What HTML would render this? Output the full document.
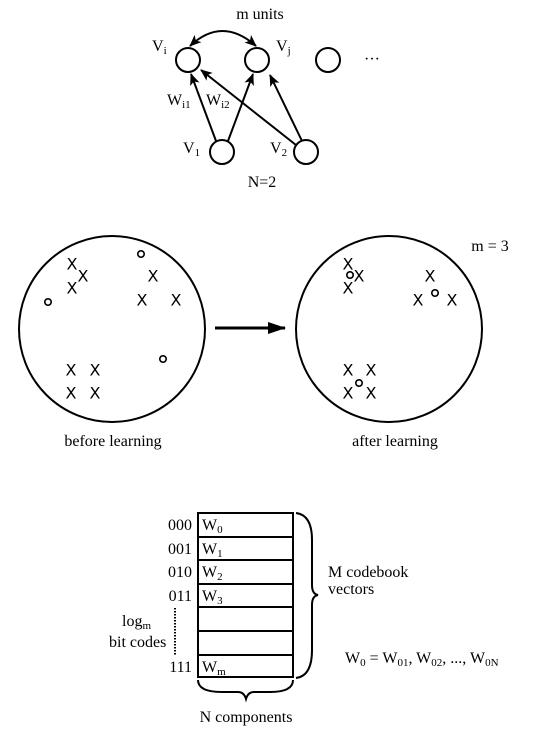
<!DOCTYPE html>
<html><head><style>
body{margin:0;background:#fff}
svg{display:block}
text{font-family:"Liberation Serif",serif;fill:#000}
.s{font-family:"DejaVu Sans",sans-serif;font-size:16px}
</style></head><body>
<svg width="537" height="737" viewBox="0 0 537 737">
<defs>
<marker id="a" markerWidth="12" markerHeight="10" refX="11" refY="5" orient="auto-start-reverse" markerUnits="userSpaceOnUse"><path d="M0,0 L12,5 L0,10 L3,5 Z" fill="#000"/></marker>
<marker id="b" markerWidth="18" markerHeight="12" refX="17" refY="6" orient="auto" markerUnits="userSpaceOnUse"><path d="M0,0 L18,6 L0,12 Z" fill="#000"/></marker>
</defs>
<g fill="none" stroke="#000" stroke-width="2">
<circle cx="188" cy="60" r="12"/><circle cx="257" cy="60" r="12"/><circle cx="328" cy="60" r="12"/>
<circle cx="222" cy="152" r="12"/><circle cx="306" cy="152" r="12"/>
<path d="M216,141 L191,74" marker-end="url(#a)"/>
<path d="M228,141 L253,74" marker-end="url(#a)"/>
<path d="M296,145 L201,70" marker-end="url(#a)"/>
<path d="M302,141 L270,75" marker-end="url(#a)"/>
<path d="M190,46 Q222,16 256,46" marker-start="url(#a)" marker-end="url(#a)"/>
<circle cx="112" cy="329" r="93"/><circle cx="389" cy="329" r="93"/>
<path d="M215,328 L285,328" stroke-width="3" marker-end="url(#b)"/>
<rect x="198" y="513" width="95" height="164"/>
<path d="M198,537H293M198,560H293M198,584H293M198,607H293M198,631H293M198,655H293"/>
<path d="M175,608V656" stroke-dasharray="1.5,1.5" stroke-width="2"/>
<path d="M296,513 Q312,515 312,540 L312,585 Q312,594 318,595 Q312,596 312,605 L312,650 Q312,676 296,678"/>
<path d="M198,680 Q198,692 222,692 L238,692 Q244,692 246,699 Q248,692 254,692 L270,692 Q293,692 293,680"/>
</g>
<g font-size="16" text-anchor="middle">
<text x="260" y="19">m units</text>
<text x="262" y="187">N=2</text>
<text x="372" y="64" font-size="16">···</text>
<text x="113" y="446">before learning</text>
<text x="395" y="446">after learning</text>
<text x="490" y="251">m = 3</text>
<text x="246" y="722">N components</text>
</g>
<g font-size="16">
<text x="152" y="51">V<tspan font-size="11" dy="3">i</tspan></text>
<text x="276" y="51">V<tspan font-size="11" dy="3">j</tspan></text>
<text x="167" y="105">W<tspan font-size="11" dy="3">i1</tspan></text>
<text x="206" y="105">W<tspan font-size="11" dy="3">i2</tspan></text>
<text x="183" y="153">V<tspan font-size="11" dy="3">1</tspan></text>
<text x="270" y="153">V<tspan font-size="11" dy="3">2</tspan></text>
<g text-anchor="end"><text x="192" y="530">000</text><text x="192" y="554">001</text><text x="192" y="577">010</text><text x="192" y="601">011</text><text x="192" y="672">111</text></g>
<text x="202" y="530">W<tspan font-size="11" dy="3">0</tspan></text>
<text x="202" y="554">W<tspan font-size="11" dy="3">1</tspan></text>
<text x="202" y="577">W<tspan font-size="11" dy="3">2</tspan></text>
<text x="202" y="601">W<tspan font-size="11" dy="3">3</tspan></text>
<text x="202" y="672">W<tspan font-size="11" dy="3">m</tspan></text>
<text x="122" y="626">log<tspan font-size="11" dy="3">m</tspan></text>
<text x="109" y="647">bit codes</text>
<text x="328" y="577">M codebook</text>
<text x="328" y="594">vectors</text>
<text x="345" y="663">W<tspan font-size="11" dy="3">0</tspan><tspan dy="-3"> = W</tspan><tspan font-size="11" dy="3">01</tspan><tspan dy="-3">, W</tspan><tspan font-size="11" dy="3">02</tspan><tspan dy="-3">, ..., W</tspan><tspan font-size="11" dy="3">0N</tspan></text>
</g>
<g class="s" text-anchor="middle" dominant-baseline="central">
<text class="s" x="72" y="264">X</text><text class="s" x="83" y="276">X</text><text class="s" x="72" y="288">X</text>
<text class="s" x="153" y="276">X</text><text class="s" x="142" y="300">X</text><text class="s" x="176" y="300">X</text>
<text class="s" x="71" y="370">X</text><text class="s" x="95" y="370">X</text><text class="s" x="71" y="393">X</text><text class="s" x="95" y="393">X</text>
<text class="s" x="348" y="264">X</text><text class="s" x="359" y="276">X</text><text class="s" x="348" y="288">X</text>
<text class="s" x="430" y="276">X</text><text class="s" x="418" y="300">X</text><text class="s" x="452" y="300">X</text>
<text class="s" x="348" y="370">X</text><text class="s" x="371" y="370">X</text><text class="s" x="348" y="393">X</text><text class="s" x="371" y="393">X</text>
</g>
<g fill="none" stroke="#000" stroke-width="1.6">
<circle cx="48" cy="302" r="3.2"/><circle cx="141" cy="254" r="3.2"/><circle cx="163" cy="359" r="3.2"/>
<circle cx="350" cy="275" r="3.2"/><circle cx="435" cy="293" r="3.2"/><circle cx="359" cy="383" r="3.2"/>
</g>
</svg>
</body></html>
